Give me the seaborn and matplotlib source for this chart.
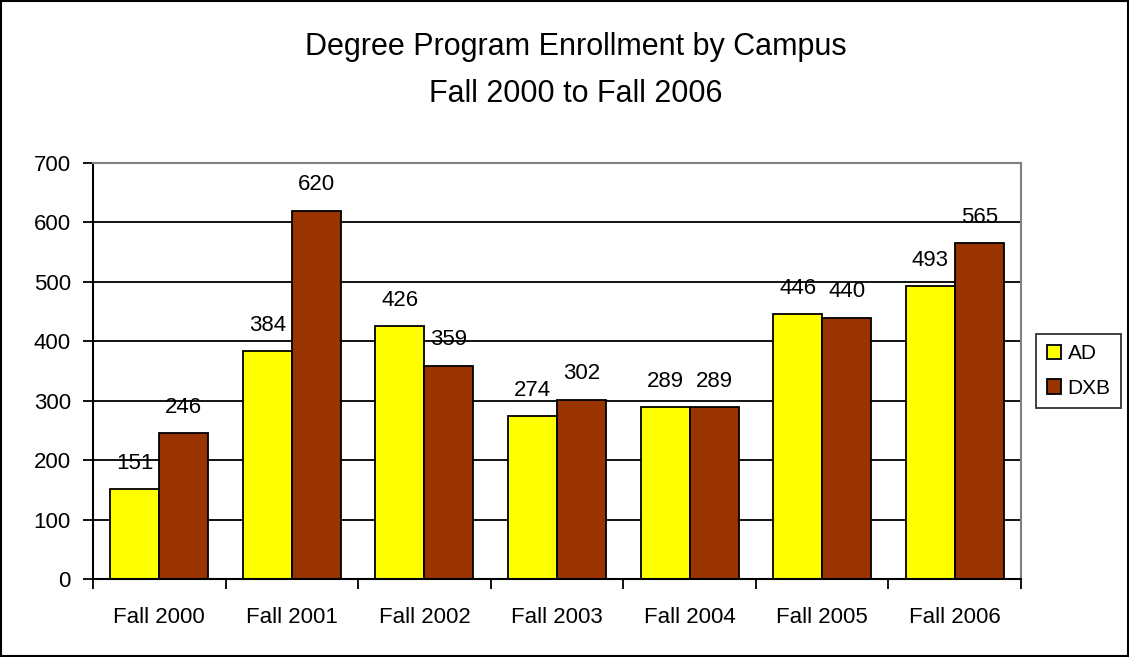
import matplotlib
matplotlib.use("Agg")
import matplotlib.pyplot as plt
import seaborn as sns
import pandas as pd
from matplotlib.patches import Rectangle

categories = ["Fall 2000", "Fall 2001", "Fall 2002", "Fall 2003", "Fall 2004", "Fall 2005", "Fall 2006"]
ad_values = [151, 384, 426, 274, 289, 446, 493]
dxb_values = [246, 620, 359, 302, 289, 440, 565]
series_names = ["AD", "DXB"]
colors = ["#FFFF00", "#993300"]
title_lines = ["Degree Program Enrollment by Campus", "Fall 2000 to Fall 2006"]
y_ticks = [0, 100, 200, 300, 400, 500, 600, 700]

df = pd.DataFrame({
    "Term": categories * 2,
    "Campus": [series_names[0]] * len(categories) + [series_names[1]] * len(categories),
    "Enrollment": ad_values + dxb_values,
})

sns.set_theme(style="white")
plt.rcParams['font.family'] = ['Liberation Sans', 'DejaVu Sans']
plt.rcParams['text.color'] = 'black'
plt.rcParams['xtick.color'] = 'black'
plt.rcParams['ytick.color'] = 'black'
plt.rcParams['axes.labelcolor'] = 'black'

fs = 16

fig = plt.figure(figsize=(11.29, 6.57), dpi=100)
ax = fig.add_axes([0.0824, 0.1187, 0.8219, 0.6332])

sns.barplot(data=df, x="Term", y="Enrollment", hue="Campus", palette=colors, saturation=1,
            width=0.74, gap=0, edgecolor="black", linewidth=1.3, ax=ax, legend=True)

ax.set_ylim(0, 700)
ax.set_xlim(-0.5, len(categories) - 0.5)
ax.set_yticks(y_ticks)
ax.set_yticklabels([str(t) for t in y_ticks], fontsize=fs)
ax.set_xticks(range(len(categories)))
ax.set_xticklabels(categories, fontsize=fs)
ax.set_xlabel("")
ax.set_ylabel("")

for t in y_ticks[1:-1]:
    ax.axhline(t, color="black", linewidth=1.3, zorder=0)

for s in ["top", "right"]:
    ax.spines[s].set_color("#808080")
    ax.spines[s].set_linewidth(1.5)
for s in ["left", "bottom"]:
    ax.spines[s].set_color("black")
    ax.spines[s].set_linewidth(1.5)

ax.tick_params(axis="y", which="major", direction="out", length=7, width=1.3, color="black", left=True, pad=9)
ax.tick_params(axis="x", which="major", length=0, pad=20)
ax.set_xticks([i - 0.5 for i in range(len(categories) + 1)], minor=True)
ax.tick_params(axis="x", which="minor", direction="out", length=7, width=1.3, color="black", bottom=True)

for c in ax.containers:
    ax.bar_label(c, labels=[f"{int(v)}" for v in c.datavalues], padding=11, fontsize=fs, color="black")

leg = ax.legend(loc="center left", bbox_to_anchor=(1.010, 0.5), fontsize=15, frameon=True,
                fancybox=False, edgecolor="black", handlelength=0.7, handleheight=0.7,
                handletextpad=0.3, borderpad=0.5, borderaxespad=0.3, labelspacing=0.75)
leg.get_frame().set_linewidth(1.3)
for h in leg.legend_handles:
    h.set_edgecolor("black")
    h.set_linewidth(1.3)
for t in leg.get_texts():
    t.set_color("black")

fig.text(0.51, 1 - 55 / 657, title_lines[0], ha="center", va="baseline", fontsize=22, color="black")
fig.text(0.51, 1 - 102 / 657, title_lines[1], ha="center", va="baseline", fontsize=22, color="black")

fig.patches.append(Rectangle((0.001, 0.001), 0.998, 0.998, transform=fig.transFigure,
                             fill=False, edgecolor="black", linewidth=1.5))

fig.savefig("out.png", dpi=100, facecolor="white")
